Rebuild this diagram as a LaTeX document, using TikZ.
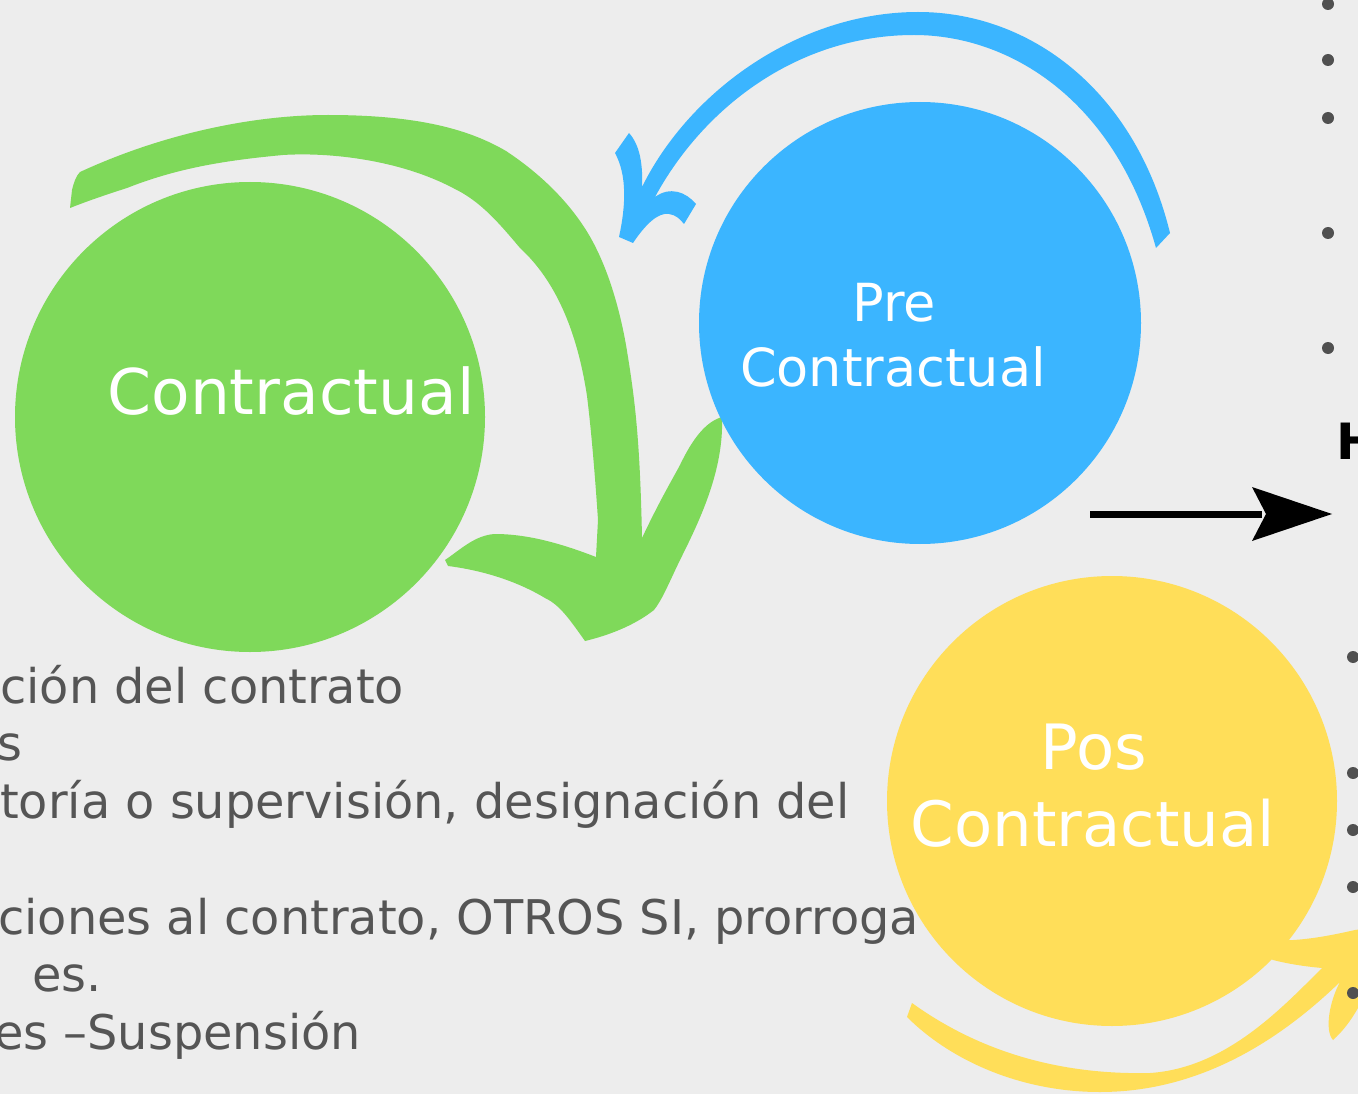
\documentclass[tikz,border=0pt]{standalone}
\usepackage{fontspec}
\setmainfont{DejaVu Sans}
\definecolor{bg}{HTML}{EDEDED}
\definecolor{cgreen}{HTML}{7FD95A}
\definecolor{cblue}{HTML}{3BB5FF}
\definecolor{cyellow}{HTML}{FFDE59}
\definecolor{ctext}{HTML}{555555}
\definecolor{cbullet}{HTML}{505050}
\begin{document}
\begin{tikzpicture}[x=1pt,y=-1pt,
  disc/.style={circle,inner sep=0pt,minimum size=#1},
  lbl/.style={text=white,inner sep=0pt,anchor=base,font=\fontsize{#1}{#1}\selectfont},
  body/.style={text=ctext,font=\fontsize{47.8}{56}\selectfont,inner sep=0pt,anchor=base west},
  dot/.style={circle,fill=cbullet,inner sep=0pt,minimum size=12pt}]
\fill[bg] (0,0) rectangle (1358,1094);
\useasboundingbox (0,0) rectangle (1358,1094);
\clip (0,0) rectangle (1358,1094);

% body text (partly hidden at the left edge)
\node[body] (t1) at (0,703) {ción del contrato};
\node[body] (t2) at (-3,760) {s};
\node[body] (t3) at (0,818) {toría o supervisión, designación del};
\node[body] (t5) at (-2,934) {ciones al contrato, OTROS SI, prorroga};
\node[body] (t6) at (32,991) {es.};
\node[body] (t7) at (-6,1049) {es –Suspensión};

% green brush arrow
\fill[cgreen] (70,208) -- (72,190) .. controls (74,182) and (76,176) .. (80,172)
  .. controls (160,135) and (250,115) .. (328,115)
  .. controls (420,115) and (470,130) .. (506,151)
  .. controls (550,180) and (580,215) .. (596,248)
  .. controls (612,280) and (622,320) .. (627,351)
  .. controls (635,400) and (640,440) .. (642,538)
  .. controls (660,500) and (672,480) .. (680,465)
  .. controls (692,440) and (705,422) .. (722,417)
  .. controls (724,470) and (700,520) .. (680,560)
  .. controls (668,585) and (662,600) .. (654,610)
  .. controls (635,625) and (610,635) .. (585,641)
  .. controls (570,620) and (560,605) .. (545,598)
  .. controls (515,580) and (480,570) .. (448,566)
  -- (445,560) .. controls (460,550) and (475,535) .. (495,534)
  .. controls (530,534) and (565,545) .. (596,557)
  -- (598,520) .. controls (594,460) and (590,420) .. (587,396)
  .. controls (577,330) and (555,280) .. (520,248)
  .. controls (495,218) and (478,200) .. (453,188)
  .. controls (400,160) and (330,152) .. (283,155)
  .. controls (230,160) and (180,167) .. (127,188)
  .. controls (105,195) and (85,202) .. (70,208) -- cycle;

% circles
\node[disc=470pt,fill=cgreen] (gc) at (250,417) {};
\node[disc=442pt,fill=cblue] (bc) at (920,323) {};

% blue brush arrow
\fill[cblue] (1170,233) .. controls (1135,90) and (1030,12) .. (918,12)
  .. controls (800,12) and (690,90) .. (642,187)
  .. controls (643,165) and (640,145) .. (629,133)
  -- (615,153) .. controls (627,175) and (626,205) .. (619,237)
  -- (633,243) .. controls (645,225) and (658,212) .. (669,214)
  .. controls (676,215) and (680,219) .. (684,224)
  -- (696,204) .. controls (686,192) and (670,186) .. (655,197)
  .. controls (705,105) and (800,35) .. (914,35)
  .. controls (1010,35) and (1115,100) .. (1156,248) -- cycle;

% yellow brush arrow
\fill[cyellow] (912,1003) .. controls (980,1052) and (1060,1075) .. (1150,1073)
  .. controls (1225,1068) and (1280,1010) .. (1322,968)
  .. controls (1300,966) and (1285,963) .. (1273,960)
  .. controls (1262,955) and (1254,946) .. (1250,938)
  .. controls (1285,944) and (1320,938) .. (1355,930)
  -- (1370,928) -- (1370,990) -- (1358,1008)
  .. controls (1350,1022) and (1342,1032) .. (1333,1040)
  .. controls (1324,1030) and (1330,1000) .. (1340,982)
  .. controls (1280,1040) and (1200,1092) .. (1100,1092)
  .. controls (1020,1092) and (950,1060) .. (907,1017) -- cycle;
\node[disc=450pt,fill=cyellow] (yc) at (1112,801) {};

% circle labels
\node[lbl=63] (gl) at (291,414) {Contractual};
\node[lbl=52.5] (bl1) at (894,321) {Pre};
\node[lbl=52.5] (bl2) at (893,386) {Contractual};
\node[lbl=62.5] (yl1) at (1094,769) {Pos};
\node[lbl=62.5] (yl2) at (1093,846) {Contractual};

% bullets on the right edge
\foreach \n/\y in {a/4,b/60,c/118,d/233,e/348}
  \node[dot] (u\n) at (1328,\y) {};
\foreach \n/\y in {a/657,b/773,c/830,d/887,e/993}
  \node[dot] (l\n) at (1353,\y) {};

% H partially visible
\node[inner sep=0pt,anchor=base west,font=\bfseries\fontsize{50}{55}\selectfont] (h) at (1336,459) {H};

% black arrow
\coordinate (as) at (1090,514);
\coordinate (ab) at (1262,514);
\coordinate (ae) at (1332,514);
\draw[line width=7pt] (as) -- (ab);
\fill (ae) -- ++(-80,-27) -- ++(14,27) -- ++(-14,27) -- cycle;
\end{tikzpicture}
\end{document}
